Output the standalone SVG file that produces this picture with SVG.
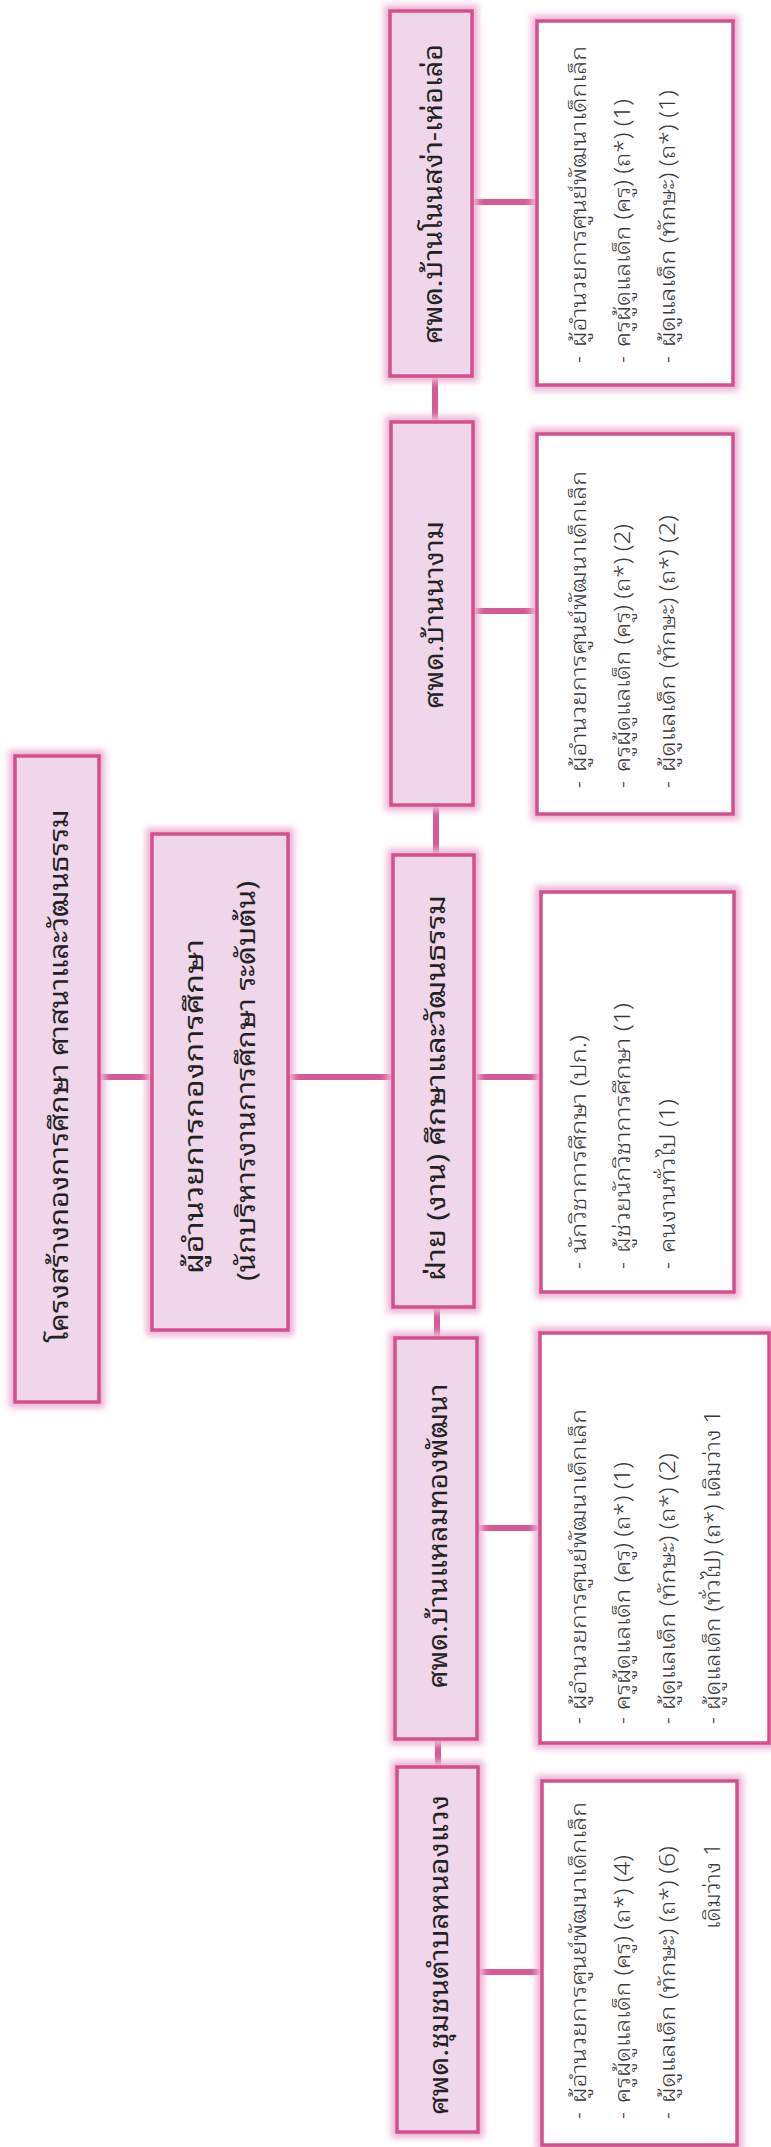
<svg xmlns="http://www.w3.org/2000/svg" width="771" height="2147" viewBox="0 0 771 2147">
<defs>
<filter id="blur" x="-20%" y="-20%" width="140%" height="140%"><feGaussianBlur stdDeviation="3"/></filter>
</defs>
<style>
.halo{fill:none;stroke:#ecb3d5;stroke-width:12;filter:url(#blur)}
.box{fill:#f0d6eb;stroke:#d4508c;stroke-width:3.5}
.wbox{fill:#ffffff;stroke:#d4508c;stroke-width:3.5}
.conn{stroke:#d65a96;stroke-width:6;fill:none}
.lbl{font-family:"Noto Sans Thai Looped","Noto Sans Thai",Loma,Garuda,"Noto Sans",sans-serif;font-size:26px;fill:#222}
.itm{font-family:"Noto Sans Thai Looped","Noto Sans Thai",Loma,Garuda,"Noto Sans",sans-serif;font-size:21px;font-weight:300;fill:#3a3a3a}
.mid{text-anchor:middle}
.end{text-anchor:end}
</style>
<rect width="771" height="2147" fill="#ffffff"/>
<g id="connectors">
<line class="conn" x1="435" y1="376" x2="435" y2="422"/>
<line class="conn" x1="436" y1="805" x2="436" y2="855"/>
<line class="conn" x1="437" y1="1307" x2="437" y2="1338"/>
<line class="conn" x1="438" y1="1739" x2="438" y2="1767"/>
<line class="conn" x1="99" y1="1077" x2="152" y2="1077"/>
<line class="conn" x1="288" y1="1077" x2="393" y2="1077"/>
<line class="conn" x1="474" y1="1077" x2="541" y2="1077"/>
<line class="conn" x1="472" y1="202" x2="537" y2="202"/>
<line class="conn" x1="473" y1="611" x2="537" y2="611"/>
<line class="conn" x1="477" y1="1528" x2="540" y2="1528"/>
<line class="conn" x1="478" y1="1972" x2="542" y2="1972"/>
</g>
<g id="title">
<rect class="halo" x="15" y="756" width="84" height="646"/>
<rect class="box" x="15" y="756" width="84" height="646"/>
<text class="lbl mid" transform="translate(68,1076) rotate(-90)" textLength="533" lengthAdjust="spacingAndGlyphs">โครงสร้างกองการศึกษา ศาสนาและวัฒนธรรม</text>
</g>
<g id="director">
<rect class="halo" x="152" y="834" width="136" height="496"/>
<rect class="box" x="152" y="834" width="136" height="496"/>
<text class="lbl" transform="translate(203,1274) rotate(-90)" textLength="335" lengthAdjust="spacingAndGlyphs">ผู้อำนวยการกองการศึกษา</text>
<text class="lbl" transform="translate(255,1281) rotate(-90)" textLength="400" lengthAdjust="spacingAndGlyphs">(นักบริหารงานการศึกษา ระดับต้น)</text>
</g>
<g id="node-a">
<rect class="halo" x="390" y="11" width="82" height="365"/>
<rect class="box" x="390" y="11" width="82" height="365"/>
<text class="lbl mid" transform="translate(442,194) rotate(-90)" textLength="300" lengthAdjust="spacingAndGlyphs">ศพด.บ้านโนนสง่า-เห่อเล่อ</text>
</g>
<g id="node-b">
<rect class="halo" x="391" y="422" width="82" height="383"/>
<rect class="box" x="391" y="422" width="82" height="383"/>
<text class="lbl mid" transform="translate(443,615) rotate(-90)" textLength="188" lengthAdjust="spacingAndGlyphs">ศพด.บ้านนางาม</text>
</g>
<g id="node-c">
<rect class="halo" x="393" y="855" width="81" height="452"/>
<rect class="box" x="393" y="855" width="81" height="452"/>
<text class="lbl mid" transform="translate(445,1088) rotate(-90)" textLength="386" lengthAdjust="spacingAndGlyphs">ฝ่าย (งาน) ศึกษาและวัฒนธรรม</text>
</g>
<g id="node-d">
<rect class="halo" x="395" y="1338" width="82" height="401"/>
<rect class="box" x="395" y="1338" width="82" height="401"/>
<text class="lbl mid" transform="translate(447,1536) rotate(-90)" textLength="305" lengthAdjust="spacingAndGlyphs">ศพด.บ้านแหลมทองพัฒนา</text>
</g>
<g id="node-e">
<rect class="halo" x="397" y="1767" width="81" height="365"/>
<rect class="box" x="397" y="1767" width="81" height="365"/>
<text class="lbl mid" transform="translate(448,1955) rotate(-90)" textLength="320" lengthAdjust="spacingAndGlyphs">ศพด.ชุมชนตำบลหนองแวง</text>
</g>
<g id="list-a">
<rect class="halo" x="537" y="21" width="196" height="364"/>
<rect class="wbox" x="537" y="21" width="196" height="364"/>
<text class="itm" transform="translate(586,363) rotate(-90)">-</text>
<text class="itm" transform="translate(586,347) rotate(-90)" textLength="301" lengthAdjust="spacingAndGlyphs">ผู้อำนวยการศูนย์พัฒนาเด็กเล็ก</text>
<text class="itm" transform="translate(630,363) rotate(-90)">-</text>
<text class="itm" transform="translate(630,347) rotate(-90)" textLength="248" lengthAdjust="spacingAndGlyphs">ครูผู้ดูแลเด็ก (ครู) (ถ*) (1)</text>
<text class="itm" transform="translate(675,363) rotate(-90)">-</text>
<text class="itm" transform="translate(675,347) rotate(-90)" textLength="257" lengthAdjust="spacingAndGlyphs">ผู้ดูแลเด็ก (ทักษะ) (ถ*) (1)</text>
</g>
<g id="list-b">
<rect class="halo" x="537" y="434" width="196" height="380"/>
<rect class="wbox" x="537" y="434" width="196" height="380"/>
<text class="itm" transform="translate(586,788) rotate(-90)">-</text>
<text class="itm" transform="translate(586,772) rotate(-90)" textLength="301" lengthAdjust="spacingAndGlyphs">ผู้อำนวยการศูนย์พัฒนาเด็กเล็ก</text>
<text class="itm" transform="translate(630,788) rotate(-90)">-</text>
<text class="itm" transform="translate(630,772) rotate(-90)" textLength="248" lengthAdjust="spacingAndGlyphs">ครูผู้ดูแลเด็ก (ครู) (ถ*) (2)</text>
<text class="itm" transform="translate(675,788) rotate(-90)">-</text>
<text class="itm" transform="translate(675,772) rotate(-90)" textLength="257" lengthAdjust="spacingAndGlyphs">ผู้ดูแลเด็ก (ทักษะ) (ถ*) (2)</text>
</g>
<g id="list-c">
<rect class="halo" x="541" y="892" width="193" height="400"/>
<rect class="wbox" x="541" y="892" width="193" height="400"/>
<text class="itm" transform="translate(586,1269) rotate(-90)">-</text>
<text class="itm" transform="translate(586,1253) rotate(-90)" textLength="218" lengthAdjust="spacingAndGlyphs">นักวิชาการศึกษา (ปก.)</text>
<text class="itm" transform="translate(630,1269) rotate(-90)">-</text>
<text class="itm" transform="translate(630,1253) rotate(-90)" textLength="250" lengthAdjust="spacingAndGlyphs">ผู้ช่วยนักวิชาการศึกษา (1)</text>
<text class="itm" transform="translate(675,1269) rotate(-90)">-</text>
<text class="itm" transform="translate(675,1253) rotate(-90)" textLength="154" lengthAdjust="spacingAndGlyphs">คนงานทั่วไป (1)</text>
</g>
<g id="list-d">
<rect class="halo" x="540" y="1333" width="229" height="410"/>
<rect class="wbox" x="540" y="1333" width="229" height="410"/>
<text class="itm" transform="translate(586,1724) rotate(-90)">-</text>
<text class="itm" transform="translate(586,1710) rotate(-90)" textLength="301" lengthAdjust="spacingAndGlyphs">ผู้อำนวยการศูนย์พัฒนาเด็กเล็ก</text>
<text class="itm" transform="translate(630,1724) rotate(-90)">-</text>
<text class="itm" transform="translate(630,1710) rotate(-90)" textLength="248" lengthAdjust="spacingAndGlyphs">ครูผู้ดูแลเด็ก (ครู) (ถ*) (1)</text>
<text class="itm" transform="translate(675,1724) rotate(-90)">-</text>
<text class="itm" transform="translate(675,1710) rotate(-90)" textLength="257" lengthAdjust="spacingAndGlyphs">ผู้ดูแลเด็ก (ทักษะ) (ถ*) (2)</text>
<text class="itm" transform="translate(720,1724) rotate(-90)">-</text>
<text class="itm" transform="translate(720,1710) rotate(-90)" textLength="300" lengthAdjust="spacingAndGlyphs">ผู้ดูแลเด็ก (ทั่วไป) (ถ*) เดิมว่าง 1</text>
</g>
<g id="list-e">
<rect class="halo" x="542" y="1781" width="195" height="364"/>
<rect class="wbox" x="542" y="1781" width="195" height="364"/>
<text class="itm" transform="translate(586,2119) rotate(-90)">-</text>
<text class="itm" transform="translate(586,2103) rotate(-90)" textLength="301" lengthAdjust="spacingAndGlyphs">ผู้อำนวยการศูนย์พัฒนาเด็กเล็ก</text>
<text class="itm" transform="translate(630,2119) rotate(-90)">-</text>
<text class="itm" transform="translate(630,2103) rotate(-90)" textLength="248" lengthAdjust="spacingAndGlyphs">ครูผู้ดูแลเด็ก (ครู) (ถ*) (4)</text>
<text class="itm" transform="translate(675,2119) rotate(-90)">-</text>
<text class="itm" transform="translate(675,2103) rotate(-90)" textLength="257" lengthAdjust="spacingAndGlyphs">ผู้ดูแลเด็ก (ทักษะ) (ถ*) (6)</text>
<text class="itm end" transform="translate(720,1843) rotate(-90)" textLength="86" lengthAdjust="spacingAndGlyphs">เดิมว่าง 1</text>
</g>
</svg>
